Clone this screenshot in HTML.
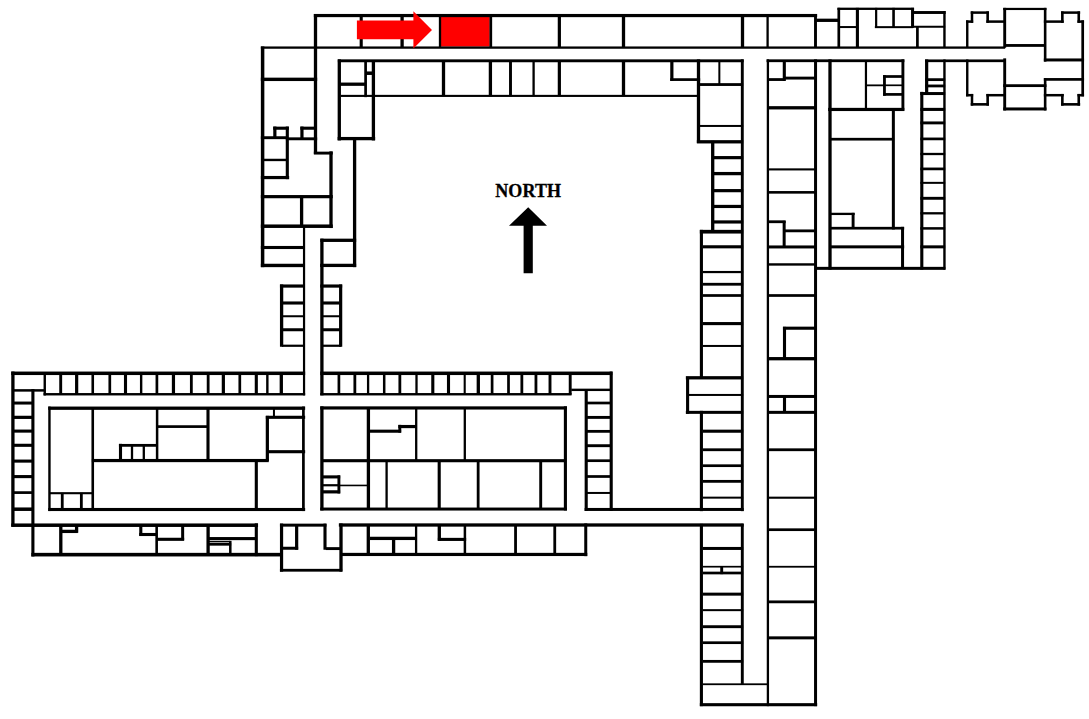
<!DOCTYPE html>
<html><head><meta charset="utf-8"><style>
html,body{margin:0;padding:0;background:#fff;}
body{width:1089px;height:719px;overflow:hidden;}
svg{display:block;}
</style></head><body>
<svg width="1089" height="719" viewBox="0 0 1089 719">
<rect x="0" y="0" width="1089" height="719" fill="#fff"/>
<rect x="441" y="16.6" width="48.7" height="30" fill="#f00"/>
<g fill="#000">
<rect x="313.85" y="13.95" width="503.30" height="3.20"/>
<rect x="313.85" y="14.05" width="3.30" height="139.90"/>
<rect x="260.85" y="46.45" width="744.30" height="2.30"/>
<rect x="359.65" y="14.85" width="3.10" height="32.80"/>
<rect x="400.45" y="14.85" width="3.30" height="32.80"/>
<rect x="438.85" y="14.85" width="2.30" height="32.80"/>
<rect x="489.45" y="14.85" width="2.70" height="32.80"/>
<rect x="557.75" y="14.85" width="3.20" height="32.80"/>
<rect x="621.85" y="14.85" width="3.30" height="32.80"/>
<rect x="740.85" y="14.85" width="3.30" height="32.80"/>
<rect x="766.45" y="14.85" width="2.30" height="32.80"/>
<rect x="814.05" y="14.85" width="2.90" height="32.80"/>
<rect x="816.35" y="18.65" width="22.30" height="3.30"/>
<rect x="837.45" y="7.65" width="76.60" height="2.30"/>
<rect x="837.45" y="7.85" width="2.70" height="39.80"/>
<rect x="855.85" y="7.85" width="3.10" height="39.80"/>
<rect x="839.85" y="26.05" width="16.30" height="2.00"/>
<rect x="875.05" y="7.85" width="2.20" height="19.80"/>
<rect x="892.25" y="7.85" width="2.60" height="19.80"/>
<rect x="911.05" y="7.85" width="3.00" height="19.80"/>
<rect x="874.85" y="26.15" width="38.30" height="2.00"/>
<rect x="911.85" y="11.05" width="33.80" height="2.90"/>
<rect x="943.25" y="11.05" width="2.40" height="36.60"/>
<rect x="912.85" y="25.75" width="32.30" height="2.00"/>
<rect x="916.05" y="26.85" width="2.70" height="20.80"/>
<rect x="966.05" y="20.35" width="2.40" height="27.40"/>
<rect x="966.05" y="20.35" width="7.10" height="2.50"/>
<rect x="970.75" y="11.35" width="2.50" height="11.50"/>
<rect x="970.75" y="11.35" width="18.20" height="2.50"/>
<rect x="986.35" y="11.35" width="2.60" height="11.50"/>
<rect x="986.35" y="20.35" width="18.80" height="2.50"/>
<rect x="1003.25" y="7.85" width="2.90" height="39.90"/>
<rect x="1003.25" y="7.85" width="43.20" height="2.20"/>
<rect x="1043.85" y="7.85" width="2.60" height="53.80"/>
<rect x="1004.85" y="44.05" width="40.30" height="2.80"/>
<rect x="1043.85" y="20.35" width="19.90" height="2.50"/>
<rect x="1061.05" y="11.35" width="2.60" height="11.50"/>
<rect x="1061.05" y="11.35" width="19.10" height="2.50"/>
<rect x="1077.45" y="11.35" width="2.60" height="11.50"/>
<rect x="1077.45" y="20.35" width="6.60" height="2.50"/>
<rect x="1081.35" y="20.35" width="2.70" height="76.00"/>
<rect x="1043.85" y="58.45" width="40.20" height="3.00"/>
<rect x="1003.25" y="84.25" width="43.20" height="2.80"/>
<rect x="1043.85" y="78.15" width="2.60" height="32.30"/>
<rect x="1043.85" y="78.05" width="40.20" height="2.70"/>
<rect x="1043.85" y="93.95" width="19.90" height="2.50"/>
<rect x="1077.45" y="93.95" width="6.60" height="2.50"/>
<rect x="1061.05" y="93.95" width="2.60" height="11.70"/>
<rect x="1061.05" y="103.05" width="19.10" height="2.60"/>
<rect x="1077.45" y="93.95" width="2.60" height="11.70"/>
<rect x="1003.25" y="58.35" width="2.90" height="52.10"/>
<rect x="1003.25" y="107.45" width="43.20" height="3.00"/>
<rect x="925.05" y="59.45" width="80.10" height="2.70"/>
<rect x="966.05" y="59.45" width="2.40" height="36.90"/>
<rect x="966.05" y="93.95" width="7.10" height="2.50"/>
<rect x="970.75" y="93.95" width="2.50" height="11.70"/>
<rect x="970.75" y="103.05" width="18.20" height="2.60"/>
<rect x="986.35" y="93.95" width="2.60" height="11.70"/>
<rect x="986.35" y="93.95" width="18.80" height="2.50"/>
<rect x="925.05" y="59.45" width="3.20" height="34.20"/>
<rect x="920.25" y="92.05" width="24.90" height="3.00"/>
<rect x="920.25" y="91.85" width="3.10" height="177.80"/>
<rect x="943.25" y="59.45" width="2.40" height="210.20"/>
<rect x="925.25" y="78.25" width="19.90" height="2.80"/>
<rect x="925.25" y="84.55" width="19.90" height="2.80"/>
<rect x="920.35" y="107.85" width="24.80" height="3.10"/>
<rect x="920.35" y="121.45" width="24.80" height="2.90"/>
<rect x="920.35" y="137.55" width="24.80" height="2.70"/>
<rect x="920.35" y="152.85" width="24.80" height="2.30"/>
<rect x="920.35" y="167.55" width="24.80" height="2.70"/>
<rect x="920.35" y="181.85" width="24.80" height="2.00"/>
<rect x="920.35" y="196.85" width="24.80" height="2.90"/>
<rect x="920.35" y="212.15" width="24.80" height="2.30"/>
<rect x="920.35" y="227.15" width="24.80" height="2.50"/>
<rect x="920.35" y="245.35" width="24.80" height="3.00"/>
<rect x="337.85" y="59.35" width="405.80" height="2.90"/>
<rect x="766.55" y="59.35" width="137.80" height="2.80"/>
<rect x="766.75" y="59.35" width="2.30" height="646.80"/>
<rect x="814.05" y="59.35" width="3.00" height="646.80"/>
<rect x="782.75" y="60.85" width="3.10" height="20.10"/>
<rect x="768.85" y="78.15" width="16.30" height="2.80"/>
<rect x="784.85" y="76.65" width="30.30" height="2.90"/>
<rect x="768.85" y="106.15" width="46.30" height="3.30"/>
<rect x="768.85" y="168.35" width="46.30" height="2.10"/>
<rect x="768.85" y="191.05" width="46.30" height="2.60"/>
<rect x="768.85" y="220.35" width="16.80" height="2.80"/>
<rect x="782.65" y="220.85" width="3.00" height="26.30"/>
<rect x="784.85" y="229.45" width="30.30" height="2.80"/>
<rect x="768.85" y="245.45" width="46.30" height="3.00"/>
<rect x="768.85" y="263.25" width="46.30" height="2.40"/>
<rect x="768.85" y="294.15" width="46.30" height="2.70"/>
<rect x="782.95" y="326.85" width="3.10" height="31.80"/>
<rect x="782.95" y="326.65" width="32.20" height="3.10"/>
<rect x="768.85" y="357.05" width="46.30" height="3.30"/>
<rect x="768.85" y="394.95" width="46.30" height="3.00"/>
<rect x="782.95" y="396.85" width="3.10" height="15.30"/>
<rect x="768.85" y="410.85" width="46.30" height="3.00"/>
<rect x="768.85" y="448.35" width="46.30" height="2.80"/>
<rect x="768.85" y="496.65" width="46.30" height="2.10"/>
<rect x="768.85" y="528.35" width="46.30" height="2.70"/>
<rect x="768.85" y="565.85" width="46.30" height="1.80"/>
<rect x="768.85" y="600.45" width="46.30" height="2.80"/>
<rect x="768.85" y="636.35" width="46.30" height="3.00"/>
<rect x="699.85" y="703.15" width="117.30" height="3.10"/>
<rect x="828.35" y="59.35" width="3.30" height="210.30"/>
<rect x="814.85" y="266.85" width="130.50" height="3.00"/>
<rect x="901.45" y="59.35" width="2.90" height="51.30"/>
<rect x="864.85" y="60.85" width="2.20" height="47.80"/>
<rect x="866.85" y="84.45" width="17.30" height="1.80"/>
<rect x="883.05" y="75.15" width="19.10" height="2.70"/>
<rect x="883.05" y="93.05" width="19.10" height="2.70"/>
<rect x="883.05" y="75.15" width="2.80" height="20.60"/>
<rect x="884.85" y="84.45" width="17.30" height="1.70"/>
<rect x="828.15" y="107.85" width="76.20" height="3.20"/>
<rect x="891.85" y="109.85" width="3.00" height="119.60"/>
<rect x="829.85" y="137.85" width="64.30" height="2.70"/>
<rect x="829.85" y="212.75" width="24.80" height="2.30"/>
<rect x="851.65" y="212.85" width="2.90" height="15.30"/>
<rect x="829.85" y="226.85" width="74.30" height="2.70"/>
<rect x="901.05" y="226.85" width="3.00" height="41.30"/>
<rect x="829.85" y="245.35" width="74.30" height="3.00"/>
<rect x="670.25" y="60.85" width="3.20" height="20.10"/>
<rect x="670.25" y="78.25" width="29.90" height="2.70"/>
<rect x="696.85" y="59.35" width="3.30" height="83.60"/>
<rect x="718.35" y="60.85" width="2.00" height="23.30"/>
<rect x="699.85" y="83.15" width="43.30" height="2.80"/>
<rect x="340.85" y="94.85" width="356.30" height="2.10"/>
<rect x="740.85" y="59.35" width="2.90" height="451.80"/>
<rect x="699.85" y="124.95" width="43.30" height="2.00"/>
<rect x="696.85" y="140.15" width="46.30" height="3.30"/>
<rect x="711.05" y="140.85" width="3.30" height="90.30"/>
<rect x="712.85" y="156.05" width="30.30" height="3.20"/>
<rect x="712.85" y="171.95" width="30.30" height="3.30"/>
<rect x="712.85" y="189.05" width="30.30" height="3.20"/>
<rect x="712.85" y="204.85" width="30.30" height="3.20"/>
<rect x="712.85" y="220.35" width="30.30" height="3.20"/>
<rect x="699.85" y="229.85" width="43.30" height="3.70"/>
<rect x="699.85" y="229.85" width="3.10" height="147.30"/>
<rect x="702.85" y="245.25" width="40.30" height="3.10"/>
<rect x="702.85" y="270.95" width="40.30" height="2.20"/>
<rect x="702.85" y="282.85" width="40.30" height="2.80"/>
<rect x="702.85" y="294.15" width="40.30" height="2.70"/>
<rect x="702.85" y="322.05" width="40.30" height="3.10"/>
<rect x="702.85" y="344.95" width="40.30" height="2.00"/>
<rect x="685.85" y="376.15" width="57.30" height="3.30"/>
<rect x="686.05" y="376.85" width="3.10" height="36.90"/>
<rect x="688.85" y="393.95" width="54.30" height="2.00"/>
<rect x="685.85" y="410.85" width="57.30" height="3.00"/>
<rect x="699.85" y="410.85" width="3.10" height="100.30"/>
<rect x="702.85" y="429.65" width="40.30" height="3.10"/>
<rect x="702.85" y="448.35" width="40.30" height="2.80"/>
<rect x="702.85" y="464.35" width="40.30" height="2.70"/>
<rect x="702.85" y="479.95" width="40.30" height="2.80"/>
<rect x="702.85" y="496.65" width="40.30" height="2.00"/>
<rect x="584.65" y="507.95" width="159.00" height="3.00"/>
<rect x="338.85" y="523.35" width="404.80" height="3.30"/>
<rect x="699.85" y="523.85" width="3.10" height="182.30"/>
<rect x="740.85" y="523.85" width="2.90" height="160.10"/>
<rect x="702.85" y="546.95" width="40.30" height="3.00"/>
<rect x="702.85" y="592.65" width="40.30" height="3.00"/>
<rect x="702.85" y="609.15" width="40.30" height="2.00"/>
<rect x="702.85" y="625.25" width="40.30" height="2.90"/>
<rect x="702.85" y="641.35" width="40.30" height="2.70"/>
<rect x="702.85" y="659.95" width="40.30" height="2.80"/>
<rect x="702.85" y="565.85" width="40.30" height="1.70"/>
<rect x="720.25" y="566.85" width="2.90" height="7.30"/>
<rect x="702.85" y="571.65" width="40.30" height="2.70"/>
<rect x="702.85" y="683.35" width="65.30" height="1.80"/>
<rect x="337.65" y="59.35" width="3.30" height="81.10"/>
<rect x="364.25" y="60.85" width="2.70" height="36.30"/>
<rect x="371.75" y="60.85" width="3.30" height="79.60"/>
<rect x="365.85" y="71.45" width="6.30" height="3.50"/>
<rect x="339.85" y="82.55" width="25.30" height="3.30"/>
<rect x="337.65" y="136.95" width="37.50" height="3.30"/>
<rect x="441.85" y="60.85" width="3.30" height="35.30"/>
<rect x="488.75" y="60.85" width="3.30" height="35.30"/>
<rect x="509.05" y="60.85" width="2.90" height="35.30"/>
<rect x="532.45" y="60.85" width="2.30" height="35.30"/>
<rect x="557.75" y="60.85" width="3.20" height="35.30"/>
<rect x="621.85" y="60.85" width="3.30" height="35.30"/>
<rect x="352.95" y="137.85" width="3.30" height="129.30"/>
<rect x="320.35" y="238.65" width="35.80" height="3.30"/>
<rect x="320.15" y="263.75" width="36.00" height="3.30"/>
<rect x="260.85" y="46.45" width="3.50" height="220.70"/>
<rect x="260.85" y="77.65" width="56.30" height="3.40"/>
<rect x="260.85" y="136.25" width="27.30" height="2.90"/>
<rect x="285.85" y="137.35" width="31.30" height="2.90"/>
<rect x="273.25" y="126.55" width="3.20" height="11.60"/>
<rect x="273.25" y="126.65" width="15.60" height="3.10"/>
<rect x="285.75" y="126.55" width="3.10" height="52.60"/>
<rect x="300.35" y="126.55" width="3.20" height="11.60"/>
<rect x="300.35" y="126.65" width="14.80" height="3.10"/>
<rect x="313.85" y="151.65" width="18.90" height="2.90"/>
<rect x="329.35" y="151.35" width="3.30" height="76.70"/>
<rect x="263.85" y="158.75" width="23.30" height="2.40"/>
<rect x="260.85" y="175.95" width="28.30" height="3.20"/>
<rect x="260.85" y="195.05" width="71.90" height="3.20"/>
<rect x="299.95" y="195.85" width="3.30" height="30.30"/>
<rect x="260.85" y="224.45" width="71.90" height="3.50"/>
<rect x="260.85" y="245.95" width="43.30" height="3.10"/>
<rect x="260.85" y="263.75" width="43.30" height="3.40"/>
<rect x="302.95" y="225.85" width="2.20" height="169.50"/>
<rect x="320.25" y="238.65" width="3.30" height="156.70"/>
<rect x="279.95" y="284.45" width="3.30" height="62.30"/>
<rect x="279.95" y="284.45" width="24.20" height="3.20"/>
<rect x="339.05" y="284.45" width="3.20" height="62.30"/>
<rect x="320.25" y="284.45" width="21.90" height="3.20"/>
<rect x="281.85" y="301.45" width="22.30" height="3.10"/>
<rect x="321.85" y="301.45" width="19.30" height="3.10"/>
<rect x="281.85" y="315.25" width="22.30" height="2.00"/>
<rect x="321.85" y="315.25" width="19.30" height="2.00"/>
<rect x="281.85" y="328.25" width="22.30" height="3.00"/>
<rect x="321.85" y="328.25" width="19.30" height="3.00"/>
<rect x="281.85" y="344.65" width="22.30" height="2.20"/>
<rect x="321.85" y="344.65" width="19.30" height="2.20"/>
<rect x="11.25" y="371.55" width="293.90" height="3.50"/>
<rect x="320.25" y="371.55" width="292.10" height="3.50"/>
<rect x="11.25" y="371.55" width="3.30" height="155.00"/>
<rect x="609.65" y="371.55" width="3.10" height="139.40"/>
<rect x="43.55" y="393.05" width="261.60" height="2.40"/>
<rect x="320.25" y="393.05" width="251.30" height="2.40"/>
<rect x="43.55" y="373.85" width="2.40" height="21.60"/>
<rect x="12.85" y="389.15" width="32.30" height="2.50"/>
<rect x="31.35" y="389.15" width="3.10" height="167.30"/>
<rect x="59.25" y="373.85" width="2.90" height="20.80"/>
<rect x="75.05" y="373.85" width="3.20" height="20.80"/>
<rect x="91.45" y="373.85" width="2.60" height="20.80"/>
<rect x="108.45" y="373.85" width="2.70" height="20.80"/>
<rect x="123.95" y="373.85" width="3.10" height="20.80"/>
<rect x="139.95" y="373.85" width="2.40" height="20.80"/>
<rect x="155.55" y="373.85" width="2.70" height="20.80"/>
<rect x="171.85" y="373.85" width="3.20" height="20.80"/>
<rect x="189.95" y="373.85" width="2.80" height="20.80"/>
<rect x="206.75" y="373.85" width="2.80" height="20.80"/>
<rect x="221.75" y="373.85" width="3.20" height="20.80"/>
<rect x="238.45" y="373.85" width="2.70" height="20.80"/>
<rect x="254.75" y="373.85" width="3.10" height="20.80"/>
<rect x="266.15" y="373.85" width="2.40" height="20.80"/>
<rect x="279.65" y="373.85" width="3.30" height="20.80"/>
<rect x="337.55" y="373.85" width="2.70" height="20.80"/>
<rect x="353.45" y="373.85" width="2.80" height="20.80"/>
<rect x="366.95" y="373.85" width="2.30" height="20.80"/>
<rect x="382.95" y="373.85" width="2.50" height="20.80"/>
<rect x="398.45" y="373.85" width="2.80" height="20.80"/>
<rect x="415.35" y="373.85" width="2.30" height="20.80"/>
<rect x="431.25" y="373.85" width="3.10" height="20.80"/>
<rect x="446.95" y="373.85" width="3.10" height="20.80"/>
<rect x="463.65" y="373.85" width="2.10" height="20.80"/>
<rect x="476.65" y="373.85" width="3.30" height="20.80"/>
<rect x="490.75" y="373.85" width="2.70" height="20.80"/>
<rect x="507.15" y="373.85" width="2.70" height="20.80"/>
<rect x="520.45" y="373.85" width="2.80" height="20.80"/>
<rect x="534.55" y="373.85" width="2.80" height="20.80"/>
<rect x="548.55" y="373.85" width="2.90" height="20.80"/>
<rect x="568.75" y="373.85" width="2.90" height="20.80"/>
<rect x="571.25" y="388.65" width="39.90" height="2.40"/>
<rect x="584.65" y="389.15" width="3.10" height="121.80"/>
<rect x="585.85" y="401.65" width="25.30" height="2.70"/>
<rect x="585.85" y="415.95" width="25.30" height="2.90"/>
<rect x="585.85" y="429.95" width="25.30" height="2.80"/>
<rect x="585.85" y="444.25" width="25.30" height="2.90"/>
<rect x="585.85" y="459.35" width="25.30" height="2.70"/>
<rect x="585.85" y="475.15" width="25.30" height="2.70"/>
<rect x="585.85" y="491.95" width="25.30" height="2.00"/>
<rect x="12.85" y="401.55" width="20.30" height="3.00"/>
<rect x="12.85" y="415.75" width="20.30" height="3.20"/>
<rect x="12.85" y="429.55" width="20.30" height="3.10"/>
<rect x="12.85" y="443.75" width="20.30" height="3.10"/>
<rect x="12.85" y="459.55" width="20.30" height="3.10"/>
<rect x="12.85" y="475.05" width="20.30" height="3.10"/>
<rect x="12.85" y="491.25" width="20.30" height="2.70"/>
<rect x="12.85" y="507.45" width="20.30" height="3.50"/>
<rect x="48.25" y="406.55" width="256.90" height="3.30"/>
<rect x="48.25" y="406.55" width="2.40" height="104.50"/>
<rect x="302.05" y="406.55" width="2.70" height="104.50"/>
<rect x="48.25" y="507.95" width="256.90" height="3.10"/>
<rect x="91.45" y="407.85" width="2.60" height="102.30"/>
<rect x="155.85" y="407.85" width="2.50" height="52.30"/>
<rect x="156.85" y="425.25" width="51.30" height="2.70"/>
<rect x="206.45" y="407.85" width="3.10" height="52.30"/>
<rect x="118.95" y="443.85" width="3.10" height="16.30"/>
<rect x="118.95" y="443.95" width="38.20" height="2.80"/>
<rect x="130.85" y="445.85" width="2.30" height="14.30"/>
<rect x="142.65" y="445.85" width="2.30" height="14.30"/>
<rect x="91.85" y="458.95" width="176.90" height="3.20"/>
<rect x="265.75" y="415.85" width="3.20" height="45.30"/>
<rect x="265.85" y="415.75" width="39.30" height="3.10"/>
<rect x="272.95" y="408.85" width="2.00" height="7.30"/>
<rect x="267.85" y="450.15" width="37.30" height="3.10"/>
<rect x="254.75" y="459.85" width="3.10" height="50.30"/>
<rect x="49.85" y="492.15" width="43.30" height="2.10"/>
<rect x="60.85" y="492.85" width="2.80" height="16.30"/>
<rect x="79.95" y="492.85" width="2.80" height="16.30"/>
<rect x="320.25" y="406.35" width="246.70" height="3.20"/>
<rect x="320.25" y="406.35" width="3.30" height="104.10"/>
<rect x="563.85" y="406.35" width="3.10" height="104.10"/>
<rect x="320.25" y="507.55" width="246.70" height="3.00"/>
<rect x="366.75" y="407.85" width="3.30" height="100.30"/>
<rect x="322.85" y="459.15" width="243.30" height="3.10"/>
<rect x="415.05" y="407.85" width="2.30" height="52.30"/>
<rect x="368.85" y="429.65" width="32.30" height="3.10"/>
<rect x="398.35" y="424.85" width="2.90" height="7.80"/>
<rect x="398.35" y="424.95" width="17.80" height="3.20"/>
<rect x="463.65" y="407.85" width="2.30" height="52.30"/>
<rect x="322.85" y="475.35" width="17.30" height="3.10"/>
<rect x="322.85" y="490.25" width="17.30" height="3.20"/>
<rect x="337.45" y="475.35" width="2.90" height="18.10"/>
<rect x="322.85" y="484.15" width="15.30" height="2.20"/>
<rect x="339.85" y="484.65" width="28.30" height="1.60"/>
<rect x="385.45" y="460.85" width="2.30" height="47.30"/>
<rect x="437.65" y="460.85" width="3.10" height="47.30"/>
<rect x="476.75" y="460.85" width="2.80" height="47.30"/>
<rect x="539.25" y="460.85" width="2.90" height="47.30"/>
<rect x="11.25" y="523.45" width="246.80" height="3.50"/>
<rect x="31.35" y="552.85" width="250.80" height="3.60"/>
<rect x="59.15" y="524.85" width="3.30" height="30.30"/>
<rect x="74.95" y="524.85" width="3.30" height="7.90"/>
<rect x="60.85" y="529.75" width="16.90" height="3.30"/>
<rect x="139.25" y="524.85" width="3.10" height="11.00"/>
<rect x="139.25" y="532.95" width="17.90" height="3.10"/>
<rect x="155.35" y="524.85" width="2.60" height="30.30"/>
<rect x="156.85" y="537.75" width="27.30" height="3.10"/>
<rect x="181.15" y="524.85" width="3.00" height="15.30"/>
<rect x="206.45" y="524.85" width="3.30" height="30.30"/>
<rect x="208.85" y="537.05" width="47.30" height="3.10"/>
<rect x="208.85" y="540.85" width="21.30" height="1.50"/>
<rect x="208.85" y="542.95" width="22.30" height="2.70"/>
<rect x="229.05" y="540.85" width="2.50" height="13.30"/>
<rect x="254.75" y="523.35" width="3.10" height="32.80"/>
<rect x="279.95" y="523.55" width="3.20" height="48.10"/>
<rect x="279.95" y="523.65" width="46.50" height="3.00"/>
<rect x="295.05" y="524.85" width="3.20" height="24.90"/>
<rect x="281.85" y="546.75" width="16.30" height="3.00"/>
<rect x="323.45" y="523.65" width="3.10" height="26.10"/>
<rect x="325.85" y="547.15" width="15.30" height="2.90"/>
<rect x="339.35" y="523.45" width="3.30" height="48.20"/>
<rect x="279.95" y="568.85" width="62.20" height="2.80"/>
<rect x="341.85" y="552.85" width="245.40" height="3.20"/>
<rect x="366.65" y="524.85" width="3.30" height="29.30"/>
<rect x="369.85" y="536.75" width="46.30" height="3.30"/>
<rect x="391.95" y="538.85" width="3.30" height="15.30"/>
<rect x="414.95" y="524.85" width="2.30" height="29.30"/>
<rect x="437.65" y="524.85" width="3.30" height="15.80"/>
<rect x="437.85" y="537.85" width="28.30" height="3.10"/>
<rect x="463.65" y="524.85" width="2.50" height="29.30"/>
<rect x="514.15" y="524.85" width="2.80" height="29.30"/>
<rect x="553.35" y="524.85" width="2.80" height="29.30"/>
<rect x="584.25" y="523.45" width="3.00" height="32.70"/>
</g>
<polygon fill="#f00" points="356.9,20.5 413.4,20.5 413.4,11.2 432,29.9 413.4,48.5 413.4,39.3 356.9,39.3"/>
<polygon fill="#000" points="523.6,273.2 523.6,225.8 509,225.8 528.2,207.3 547,225.8 532.8,225.8 532.8,273.2"/>
<text x="528.2" y="196.9" text-anchor="middle" font-family="'Liberation Serif', serif" font-weight="bold" font-size="18" letter-spacing="0.1" fill="#000" stroke="#000" stroke-width="0.3">NORTH</text>
</svg>
</body></html>
